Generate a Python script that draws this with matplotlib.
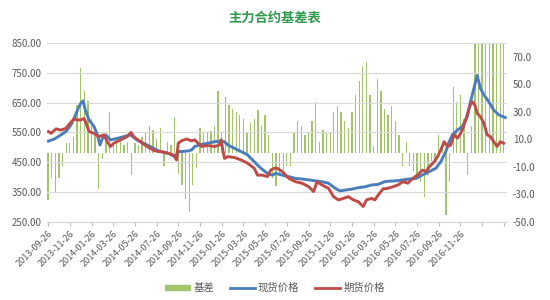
import numpy as np
import matplotlib
matplotlib.use("Agg")
import matplotlib.pyplot as plt
from matplotlib.patches import Patch
from matplotlib.lines import Line2D

plt.rcParams['font.family'] = ['Noto Sans CJK SC', 'DejaVu Sans']

# x positions are months since 2013-09-26
tick_labels = ['2013-09-26', '2013-11-26', '2014-01-26', '2014-03-26', '2014-05-26',
               '2014-07-26', '2014-09-26', '2014-11-26', '2015-01-26', '2015-03-26',
               '2015-05-26', '2015-07-26', '2015-09-26', '2015-11-26', '2016-01-26',
               '2016-03-26', '2016-05-26', '2016-07-26', '2016-09-26', '2016-11-26']

# spot price (现货价格)
spot_m = [0.03, 0.58, 1.19, 1.64, 2.10, 2.40, 2.71, 3.01, 3.22, 3.47, 3.77, 4.23, 4.54,
          4.78, 5.00, 5.30, 5.75, 6.37, 6.97, 7.58, 8.19, 8.79, 9.41, 10.02, 10.32,
          11.08, 11.69, 11.99, 12.30, 12.90, 13.21, 13.52, 14.13, 14.73, 15.34, 15.95,
          16.26, 16.56, 17.17, 17.78, 18.38, 19.00, 19.61, 20.21, 20.67, 20.98, 21.58,
          22.19, 22.80, 23.40, 24.02, 24.63, 25.23, 25.84, 26.46, 26.91, 27.37, 27.97,
          28.58, 29.20, 29.80, 30.41, 31.02, 31.48, 32.08, 32.69, 33.30, 33.91, 34.52,
          35.13, 35.74, 36.19, 36.65, 36.96, 37.26, 37.72, 38.17, 38.63, 38.93, 39.24,
          39.54, 39.84, 40.16, 40.61, 41.07, 41.53, 42.13]
spot = [521, 528, 542, 553, 575, 598, 625, 648, 656, 620, 592, 570, 542,
        508, 530, 542, 525, 530, 536, 542, 525, 514, 503, 491, 486,
        480, 469, 486, 486, 488, 491, 503, 510, 514, 519, 521,
        519, 508, 497, 486, 475, 452, 430, 413, 407, 413, 407,
        402, 396, 394, 391, 388, 385, 380, 363, 354, 357, 360,
        365, 368, 374, 376, 385, 387, 388, 391, 394, 396, 408,
        419, 430, 452, 486, 519, 542, 558, 570, 603, 653, 698,
        741, 698, 676, 653, 625, 609, 600]

# futures price (期货价格)
fut_m = [0.03, 0.27, 0.73, 1.19, 1.64, 2.10, 2.40, 2.71, 3.01, 3.32, 3.47, 3.77, 4.23,
         4.68, 5.14, 5.45, 5.75, 6.05, 6.67, 7.28, 7.64, 7.88, 8.49, 9.11, 9.71, 10.16,
         10.47, 11.08, 11.53, 11.84, 11.99, 12.30, 12.76, 13.21, 13.52, 13.82, 14.13,
         14.73, 15.34, 15.80, 15.95, 16.10, 16.26, 16.56, 17.17, 17.78, 18.38, 19.00,
         19.30, 19.75, 20.21, 20.52, 20.82, 21.12, 21.58, 22.19, 22.80, 23.40, 24.02,
         24.47, 24.78, 25.23, 25.84, 26.30, 26.76, 27.21, 27.67, 28.13, 28.58, 29.04,
         29.34, 29.80, 30.11, 30.41, 30.87, 31.32, 31.78, 32.24, 32.69, 33.15, 33.61,
         34.06, 34.52, 34.82, 35.13, 35.59, 35.89, 36.19, 36.50, 36.80, 37.11, 37.41,
         37.72, 38.02, 38.33, 38.63, 38.84, 39.09, 39.33, 39.54, 39.84, 40.16, 40.46,
         40.76, 41.07, 41.37, 41.67, 41.98]
fut = [553, 547, 562, 558, 564, 584, 595, 592, 592, 597, 584, 553, 547,
       536, 542, 519, 503, 514, 525, 536, 550, 536, 519, 503, 491, 486,
       486, 480, 475, 458, 514, 522, 528, 522, 525, 514, 503,
       506, 503, 508, 525, 491, 463, 469, 466, 458, 447, 430,
       407, 407, 402, 424, 430, 430, 419, 396, 385, 380, 368,
       352, 385, 374, 363, 335, 324, 329, 335, 324, 318, 302,
       324, 329, 324, 340, 361, 363, 368, 374, 385, 380, 396,
       408, 424, 419, 435, 452, 469, 491, 519, 503, 508, 542,
       531, 547, 575, 609, 637, 653, 642, 614, 603, 581, 542,
       536, 519, 503, 519, 514]

# basis (基差), one bar every third of a month, right axis
basis = [-34, -18, -28, -18, -9, 7, 7, 12, 35, 62, 45, 38, 25, 15, -26, -4,
         13, 30, 8, 7, 9, 6, 8, -16, 7, 6, 12, 15, 20, 17, 10, 18,
         -9, 8, 6, 26, -15, -23, -33, -43, -23, -11, 18, 15, 15, 16, 20, 45,
         15, 41, 35, 32, 30, 28, 25, 15, 22, 25, 31, 20, 28, 13, -18, -24,
         -16, -12, -9, -9, 15, 23, 20, 13, 15, 23, 37, 8, 17, 15, 15, 30,
         34, 30, 23, 18, 30, 42, 52, 63, 66, 42, 5, 54, 45, 32, 28, 34,
         23, 13, -9, 8, -9, -13, -18, -21, -32, -16, -6, -6, 13, 3, -45, -21,
         48, 37, 42, 25, -16, 20, 95, 100, 92, 105, 98, 110, 96, 102, 99]
basis_m = np.arange(len(basis)) / 3.0

grey = '#595959'
bar_green = '#A3C46A'
fig = plt.figure(figsize=(5.5, 3.0), dpi=100)
ax = fig.add_axes([0.0855, 0.26, 0.8365, 0.597])   # bars, right-hand scale
ax2 = ax.twinx()                                     # lines, left-hand scale

ax.bar(basis_m, basis, width=0.12, color=bar_green, linewidth=0, zorder=2)
ax.set_ylim(-50, 80)
ax.set_yticks(np.arange(-50, 71, 20))
ax.set_yticklabels(['%.1f' % v for v in np.arange(-50, 71, 20)])
ax.yaxis.tick_right()

ax2.plot(spot_m, spot, color='#4A7EBB', lw=2.1, zorder=3)
ax2.plot(fut_m, fut, color='#BE4B48', lw=2.1, zorder=4)
ax2.set_ylim(250, 850)
ax2.set_yticks(np.arange(250, 851, 100))
ax2.set_yticklabels(['%.2f' % v for v in np.arange(250, 851, 100)])
ax2.yaxis.tick_left()
ax2.grid(axis='y', color='#D9D9D9', lw=0.8, zorder=0)

ax.set_xlim(-0.1, 42.3)
ax.set_xticks(np.arange(0, 43, 2))
ax.set_xticklabels(tick_labels + ['', ''], rotation=45, ha='right',
                   rotation_mode='anchor', fontsize=6.5, color=grey)

for a in (ax, ax2):
    for s in ('top', 'left', 'right'):
        a.spines[s].set_visible(False)
    a.spines['bottom'].set_color('#D9D9D9')
    a.tick_params(axis='y', length=0, labelsize=7, colors=grey, pad=4)
ax.tick_params(axis='x', length=3, color='#BFBFBF', pad=2)
ax2.tick_params(axis='x', length=0)

fig.text(0.5, 0.94, '主力合约基差表', ha='center', va='center',
         fontsize=9.5, fontweight='bold', color='#2E9A4E')

handles = [Patch(color=bar_green),
           Line2D([], [], color='#4A7EBB', lw=2.0),
           Line2D([], [], color='#BE4B48', lw=2.0)]
fig.legend(handles, ['基差', '现货价格', '期货价格'], loc='center',
           bbox_to_anchor=(0.5, 0.04), ncol=3, frameon=False, fontsize=7.5,
           labelcolor=grey, handlelength=2.4, handleheight=0.5, columnspacing=1.5,
           handletextpad=0.3)

fig.savefig('out.png', dpi=100)
